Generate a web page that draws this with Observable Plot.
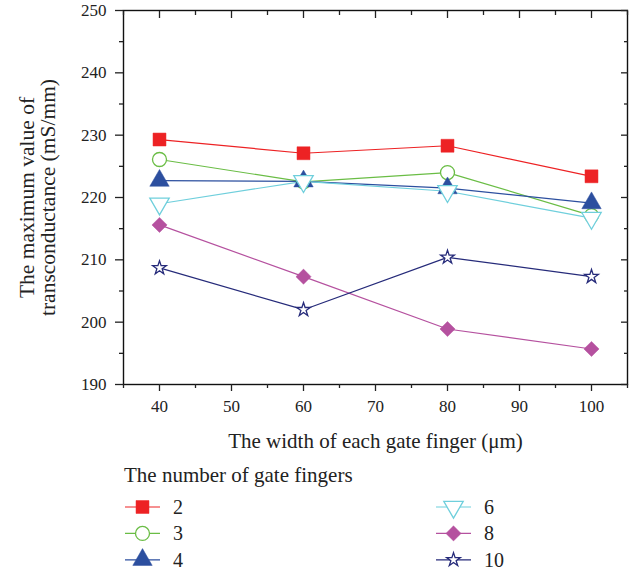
<!DOCTYPE html>
<html><head><meta charset="utf-8">
<script src="https://cdn.jsdelivr.net/npm/d3@7"></script>
<script src="https://cdn.jsdelivr.net/npm/@observablehq/plot@0.6"></script>
<style>
body{margin:0;background:#fff;font-family:"Liberation Serif",serif;}
#wrap{position:relative;width:637px;height:576px;}
#legend{position:absolute;left:0;top:455px;}
#chart svg, #chart svg text{font-family:"Liberation Serif",serif !important;}
</style></head>
<body><div id="wrap"><div id="chart"></div><div id="legend"></div></div>
<script>
const widths = [40, 60, 80, 100];
const fingers = ["2", "3", "4", "6", "8", "10"];
const gm2 = [229.3, 227.1, 228.3, 223.4];
const gm3 = [226.1, 222.5, 224.0, 217.1];
const gm4 = [222.7, 222.6, 221.5, 219.1];
const gm6 = [219.0, 222.6, 221.0, 216.7];
const gm8 = [215.6, 207.3, 198.9, 195.7];
const gm10 = [208.7, 202.0, 210.4, 207.3];
const yTicks = [190, 200, 210, 220, 230, 240, 250];
const xTicks = [40, 50, 60, 70, 80, 90, 100];

const series = [gm2, gm3, gm4, gm6, gm8, gm10];
const table = [];
fingers.forEach((f, i) => widths.forEach((w, j) => table.push({f, w, v: series[i][j]})));

const triDown = {draw(ctx, size) {
  const y = -Math.sqrt(size / (Math.sqrt(3) * 3));
  ctx.moveTo(0, -y * 2);
  ctx.lineTo(-Math.sqrt(3) * y, y);
  ctx.lineTo(Math.sqrt(3) * y, y);
  ctx.closePath();
}};
const styles = {
  "2":  {color: "#ed2224", symbol: "square", r: 7.3, filled: true},
  "3":  {color: "#6abd45", symbol: "circle", r: 7, filled: false},
  "4":  {color: "#2c4f9f", symbol: "triangle", r: 7.2, filled: true},
  "6":  {color: "#6fcfdc", symbol: triDown, r: 7.2, filled: false},
  "8":  {color: "#b5519f", symbol: "diamond2", r: 6.8, filled: true},
  "10": {color: "#262b7a", symbol: "star", r: 4.3, filled: false}
};
const colors = fingers.map(f => styles[f].color);

const yMinor = d3.range(195, 250, 10);
const xMinor = d3.range(35, 106, 10);
const font = "Liberation Serif";

const dotMarks = fingers.map(f => Plot.dot(table.filter(d => d.f === f), {
  x: "w", y: "v", symbol: styles[f].symbol, r: styles[f].r,
  fill: styles[f].filled ? styles[f].color : "white",
  stroke: styles[f].color, strokeWidth: styles[f].filled ? 0.5 : 1.3
}));

const chart = Plot.plot({
  width: 637, height: 455,
  marginLeft: 123, marginRight: 10, marginTop: 10, marginBottom: 71,
  style: {fontFamily: font, fontSize: "17px", color: "#222", background: "white"},
  x: {domain: [35, 105]},
  y: {domain: [190, 250]},
  color: {domain: fingers, range: colors},
  marks: [
    Plot.line(table, {x: "w", y: "v", z: "f", stroke: "f", strokeWidth: 1.2}),
    ...dotMarks,
    Plot.frame({stroke: "#111", strokeWidth: 1.4}),
    Plot.axisY(yTicks, {anchor: "left", tickSize: 8, tickPadding: 9, label: null, strokeWidth: 1.3, fontSize: 17}),
    Plot.axisY(yMinor, {anchor: "left", tickSize: 4, text: null, label: null, strokeWidth: 1.3}),
    Plot.axisY(yTicks, {anchor: "right", tickSize: 7, dx: -7, text: null, label: null, strokeWidth: 1.3}),
    Plot.axisY(yMinor, {anchor: "right", tickSize: 4, dx: -4, text: null, label: null, strokeWidth: 1.3}),
    Plot.axisX(xTicks, {anchor: "bottom", tickSize: 7, tickPadding: 8, label: null, strokeWidth: 1.3, fontSize: 17}),
    Plot.axisX(xMinor, {anchor: "bottom", tickSize: 4, text: null, label: null, strokeWidth: 1.3}),
    Plot.axisX(xTicks, {anchor: "top", tickSize: 7, dy: 7, text: null, label: null, strokeWidth: 1.3}),
    Plot.axisX(xMinor, {anchor: "top", tickSize: 4, dy: 4, text: null, label: null, strokeWidth: 1.3}),
    Plot.text(["The width of each gate finger (\u03bcm)"], {frameAnchor: "bottom", lineAnchor: "bottom", dy: 63, fontSize: 21, fill: "#222"}),
    Plot.text(["The maximum value of\ntransconductance (mS/mm)"], {frameAnchor: "left", textAnchor: "middle", lineAnchor: "middle", dx: -86, rotate: -90, fontSize: 21.5, lineHeight: 1.0, fill: "#222"})
  ]
});
document.getElementById("chart").appendChild(chart);

// Legend
const lg = d3.select("#legend").append("svg").attr("width", 637).attr("height", 121)
  .style("font-family", font).style("font-size", "21px");
lg.append("text").attr("x", 124).attr("y", 27).attr("fill", "#222").text("The number of gate fingers");
fingers.forEach((f, i) => {
  const col = Math.floor(i / 3), row = i % 3;
  const x0 = col === 0 ? 125 : 436, y0 = 52 + row * 26.4;
  const s = styles[f];
  lg.append("line").attr("x1", x0).attr("x2", x0 + 35).attr("y1", y0).attr("y2", y0)
    .attr("stroke", s.color).attr("stroke-width", 1.2);
  const type = typeof s.symbol === "string" ? ({square: d3.symbolSquare, circle: d3.symbolCircle, triangle: d3.symbolTriangle, diamond2: d3.symbolDiamond2, star: d3.symbolStar})[s.symbol] : s.symbol;
  lg.append("path").attr("transform", `translate(${x0 + 17.5},${y0})`)
    .attr("d", d3.symbol(type, Math.PI * s.r * s.r)())
    .attr("fill", s.filled ? s.color : "white").attr("stroke", s.color)
    .attr("stroke-width", s.filled ? 0.5 : 1.3);
  lg.append("text").attr("x", x0 + 48).attr("y", y0 + 7).attr("fill", "#222").style("font-size", "20px").text(f);
});
</script></body></html>
